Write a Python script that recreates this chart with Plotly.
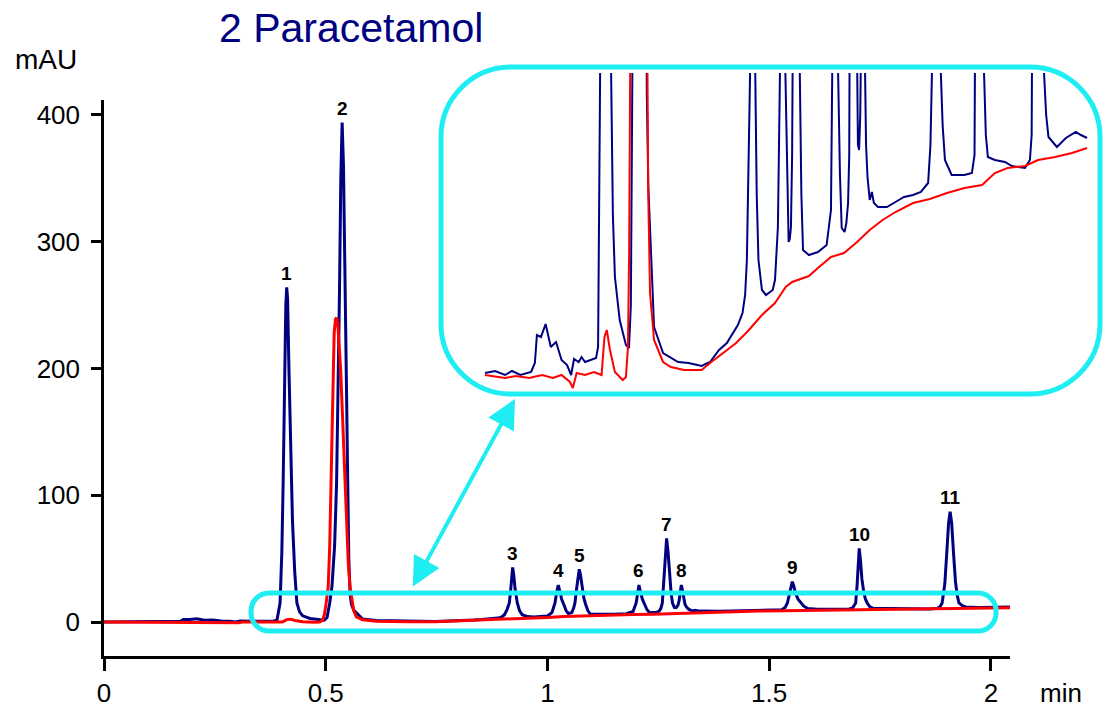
import plotly.graph_objects as go

# ---- chromatogram traces (time in min, signal in mAU) ----
blue_t = [
    0.0, 0.035, 0.069, 0.093, 0.122, 0.159, 0.172, 0.179, 0.193, 0.209, 0.227, 0.245,
    0.264, 0.283, 0.297, 0.307, 0.323, 0.333, 0.345, 0.383, 0.390,
    0.397, 0.401, 0.404, 0.407, 0.410, 0.412, 0.414, 0.417, 0.421, 0.425, 0.430, 0.435,
    0.441, 0.448, 0.4645, 0.486, 0.4966,
    0.503, 0.509, 0.514, 0.520, 0.5245, 0.528, 0.531, 0.534, 0.537, 0.540, 0.543, 0.546,
    0.549, 0.552, 0.555, 0.558, 0.563, 0.569, 0.583,
    0.614, 0.641, 0.666, 0.702, 0.717, 0.747, 0.776, 0.807, 0.834, 0.852, 0.872, 0.888,
    0.897, 0.903, 0.909, 0.914, 0.917, 0.919, 0.9215, 0.924, 0.927, 0.932, 0.937, 0.943,
    0.955, 0.969, 0.992, 1.000, 1.010,
    1.017, 1.021, 1.0245, 1.028, 1.032, 1.0366, 1.042, 1.047, 1.051, 1.055,
    1.059, 1.062, 1.066, 1.069, 1.0717, 1.0745, 1.078, 1.082, 1.086, 1.091, 1.0966,
    1.117, 1.148, 1.178, 1.193,
    1.200, 1.203, 1.2063, 1.2095, 1.214, 1.219, 1.224, 1.230, 1.240, 1.246, 1.252,
    1.256, 1.259, 1.262, 1.265, 1.2687, 1.272, 1.2755, 1.279, 1.282, 1.286, 1.290,
    1.294, 1.297, 1.2995, 1.3018, 1.3045, 1.307, 1.310, 1.314, 1.319, 1.3266, 1.334,
    1.341, 1.355, 1.386, 1.4155, 1.445, 1.476, 1.503, 1.528,
    1.536, 1.541, 1.545, 1.549, 1.552, 1.555, 1.559, 1.565, 1.572, 1.578, 1.586,
    1.609, 1.653, 1.679,
    1.688, 1.695, 1.698, 1.700, 1.703, 1.706, 1.709, 1.713, 1.717, 1.721, 1.727, 1.734,
    1.758, 1.793, 1.817, 1.862, 1.879,
    1.885, 1.890, 1.896, 1.9005, 1.9045, 1.908, 1.9115, 1.9155, 1.920, 1.924, 1.928,
    1.935, 1.943, 1.972, 2.003, 2.037, 2.055, 2.076,
]
blue_mau = [
    0.1, 0.2, 0.0, 0.2, 0.0, 0.15, 0.6, 2.0, 1.9, 2.55, 1.4, 1.65,
    0.75, 0.5, 0.0, 0.8, 0.65, 0.9, 0.65, 0.85, 1.4,
    15, 55, 110, 190, 250, 264, 255, 200, 132, 80, 40, 15,
    8, 4.9, 2.75, 1.5, 1.35,
    3.5, 15, 28, 60, 110, 180, 260, 350, 394, 360, 280, 190,
    110, 50, 22, 14, 9.5, 7.4, 2.4,
    1.1, 0.85, 0.65, 0.6, 0.55, 0.45, 0.65, 1.25, 1.6, 2.0, 2.5, 3.1,
    4.0, 5.75, 10, 15, 25, 35, 43.1, 37, 26, 15, 9, 5.75,
    4.25, 4.0, 4.25, 4.75, 7.4,
    15, 24, 29.2, 24, 18, 14, 9, 6.65, 6.8, 7.4,
    11, 15, 27, 37, 41.6, 37, 27, 19, 14, 9, 6.25,
    6.0, 6.15, 6.5, 8.25,
    15, 24, 29.2, 24, 18, 14, 10, 7.35, 7.15, 7.6, 8.6,
    11, 15, 30, 52, 66, 55, 36, 22, 15, 11.5, 11.25,
    13, 17, 25, 29.2, 25, 19, 14, 11.5, 9.9, 8.75, 9.15,
    8.6, 8.4, 8.4, 8.65, 8.9, 9.0, 9.15, 9.6,
    11.5, 15, 21, 28, 31.8, 29, 23, 18, 15, 12.5, 10.75,
    10.0, 10.0, 10.1,
    11, 15, 28, 45, 58.1, 48, 34, 24, 18, 15, 12, 10.9,
    10.75, 10.65, 10.45, 10.35, 10.75,
    12, 15, 30, 55, 78, 87, 78, 55, 32, 21, 15,
    13, 11.9, 11.4, 11.85, 12.15, 12.0, 11.85,
]

red_t = [
    0.0, 0.048, 0.069, 0.107, 0.152, 0.197, 0.234, 0.264, 0.293, 0.303, 0.316, 0.345,
    0.376, 0.402, 0.412, 0.420, 0.431, 0.448, 0.475, 0.486, 0.493,
    0.497, 0.501, 0.5056, 0.509, 0.511, 0.513, 0.516, 0.519, 0.522, 0.5245, 0.527, 0.530,
    0.5335, 0.537, 0.541, 0.546, 0.551, 0.555, 0.559, 0.563, 0.569, 0.583,
    0.614, 0.641, 0.686, 0.747, 0.776, 0.821, 0.866, 0.910, 0.955, 1.000, 1.037, 1.059,
    1.117, 1.148, 1.193, 1.238, 1.283, 1.3266, 1.371, 1.4155, 1.476, 1.534, 1.593,
    1.653, 1.714, 1.758, 1.802, 1.862, 1.907, 1.966, 2.024, 2.076,
]
red_mau = [
    0.0, -0.1, -0.15, -0.05, -0.15, 0.0, -0.15, 0.0, -0.35, -0.65, 0.1, 0.0,
    0.15, 0.0, 1.9, 2.25, 1.25, 0.15, -0.25, -0.1, 1.4,
    6, 15, 28, 60, 95, 135, 195, 228, 239, 240, 236, 222,
    200, 170, 130, 80, 45, 27, 16, 9, 4.1, 1.75,
    0.65, 0.4, 0.25, 0.25, 0.6, 1.1, 1.6, 2.25, 3.0, 3.6, 4.4, 4.65,
    4.95, 5.35, 5.9, 6.1, 6.65, 7.25, 7.75, 8.15, 8.6, 8.8, 9.1,
    9.35, 9.5, 10.1, 10.35, 10.45, 10.75, 10.9, 11.1, 11.35,
]

# ---- peak annotations ----
peak_ids = ["1", "2", "3", "4", "5", "6", "7", "8", "9", "10", "11"]
peak_rt = [0.412, 0.537, 0.9215, 1.0245, 1.0717, 1.2063, 1.2687, 1.3018, 1.552, 1.703, 1.908]
peak_top = [264, 394, 43.1, 29.2, 41.6, 29.2, 66, 29.2, 31.8, 58.1, 87]

x_tickvals = [0, 0.5, 1, 1.5, 2]
x_ticktext = ["0", "0.5", "1", "1.5", "2"]
y_tickvals = [0, 100, 200, 300, 400]
y_ticktext = ["0", "100", "200", "300", "400"]

NAVY = "#000080"
RED = "#FF0000"
CYAN = "#1EEEF2"
FONT = "Liberation Sans, Arial, sans-serif"

W, H = 1106, 709


def fx(px):
    return px / W


def fy(py):
    return 1 - py / H


def rounded_box(x0, y0, x1, y1, r):
    """SVG path (paper coords) of a rounded rectangle given in pixels."""
    k = 0.5523 * r
    pts = [
        f"M{fx(x0 + r)},{fy(y0)}",
        f"L{fx(x1 - r)},{fy(y0)}",
        f"C{fx(x1 - r + k)},{fy(y0)} {fx(x1)},{fy(y0 + r - k)} {fx(x1)},{fy(y0 + r)}",
        f"L{fx(x1)},{fy(y1 - r)}",
        f"C{fx(x1)},{fy(y1 - r + k)} {fx(x1 - r + k)},{fy(y1)} {fx(x1 - r)},{fy(y1)}",
        f"L{fx(x0 + r)},{fy(y1)}",
        f"C{fx(x0 + r - k)},{fy(y1)} {fx(x0)},{fy(y1 - r + k)} {fx(x0)},{fy(y1 - r)}",
        f"L{fx(x0)},{fy(y0 + r)}",
        f"C{fx(x0)},{fy(y0 + r - k)} {fx(x0 + r - k)},{fy(y0)} {fx(x0 + r)},{fy(y0)}",
        "Z",
    ]
    return " ".join(pts)


fig = go.Figure()

# main chromatogram
fig.add_trace(go.Scatter(x=blue_t, y=blue_mau, mode="lines",
                         line=dict(color=NAVY, width=3), xaxis="x", yaxis="y",
                         showlegend=False, hoverinfo="skip"))
fig.add_trace(go.Scatter(x=red_t, y=red_mau, mode="lines",
                         line=dict(color=RED, width=3), xaxis="x", yaxis="y",
                         showlegend=False, hoverinfo="skip"))

# magnified baseline view
fig.add_trace(go.Scatter(x=blue_t, y=blue_mau, mode="lines",
                         line=dict(color=NAVY, width=2), xaxis="x2", yaxis="y2",
                         showlegend=False, hoverinfo="skip"))
fig.add_trace(go.Scatter(x=red_t, y=red_mau, mode="lines",
                         line=dict(color=RED, width=2), xaxis="x2", yaxis="y2",
                         showlegend=False, hoverinfo="skip"))

axis_font = dict(family=FONT, size=26, color="black")

fig.update_layout(
    width=W, height=H, autosize=False,
    margin=dict(l=0, r=0, t=0, b=0, pad=0, autoexpand=False),
    paper_bgcolor="white", plot_bgcolor="white",
    xaxis=dict(domain=[fx(104), fx(1010)], range=[0, 2.043],
               showline=True, linecolor="black", linewidth=2.5,
               ticks="outside", ticklen=12, tickwidth=2.5, tickcolor="black",
               tickvals=x_tickvals, ticktext=x_ticktext, tickfont=axis_font,
               ticklabelstandoff=0, automargin=False,
               showgrid=False, zeroline=False, anchor="y"),
    yaxis=dict(domain=[fy(656), fy(100)], range=[-26.82, 411.8],
               showline=True, linecolor="black", linewidth=2.5,
               ticks="outside", ticklen=10, tickwidth=2.5, tickcolor="black",
               tickvals=y_tickvals, ticktext=y_ticktext, tickfont=axis_font,
               ticklabelstandoff=6, automargin=False,
               showgrid=False, zeroline=False, anchor="x"),
    xaxis2=dict(domain=[fx(480), fx(1095)], range=[-0.0172, 2.1034],
                visible=False, anchor="y2", automargin=False),
    yaxis2=dict(domain=[fy(395), fy(73)], range=[-1.0, 15.1],
                visible=False, anchor="x2", automargin=False),
)

shapes = [
    dict(type="path", xref="paper", yref="paper",
         path=rounded_box(441, 67, 1100, 394, 70),
         line=dict(color=CYAN, width=5), layer="above"),
    dict(type="path", xref="paper", yref="paper",
         path=rounded_box(251, 593, 996, 631, 18),
         line=dict(color=CYAN, width=5), layer="above"),
]
fig.update_layout(shapes=shapes)

annotations = [
    dict(text="2 Paracetamol", x=fx(217), y=fy(28), xref="paper", yref="paper",
         xanchor="left", yanchor="middle", showarrow=False,
         font=dict(family=FONT, size=41, color=NAVY)),
    dict(text="mAU", x=fx(46), y=fy(60), xref="paper", yref="paper",
         xanchor="center", yanchor="middle", showarrow=False,
         font=dict(family=FONT, size=28, color="black")),
    dict(text="min", x=fx(1061), y=fy(693), xref="paper", yref="paper",
         xanchor="center", yanchor="middle", showarrow=False,
         font=dict(family=FONT, size=26, color="black")),
    # double-headed pointer linking the baseline box with the magnified view
    dict(text="", x=fx(515), y=fy(399), xref="paper", yref="paper",
         ax=412 - 515, ay=588 - 399, axref="pixel", ayref="pixel",
         showarrow=True, arrowhead=2, startarrowhead=2, arrowside="end+start",
         arrowwidth=4, arrowsize=1.45, startarrowsize=1.45, arrowcolor=CYAN,
         standoff=0, startstandoff=0),
]
for pid, rt, top in zip(peak_ids, peak_rt, peak_top):
    annotations.append(dict(text=f"<b>{pid}</b>", x=rt, y=top, xref="x", yref="y",
                            xanchor="center", yanchor="middle", yshift=14,
                            showarrow=False,
                            font=dict(family=FONT, size=19, color="black")))
fig.update_layout(annotations=annotations)

fig.write_html("out.html")
